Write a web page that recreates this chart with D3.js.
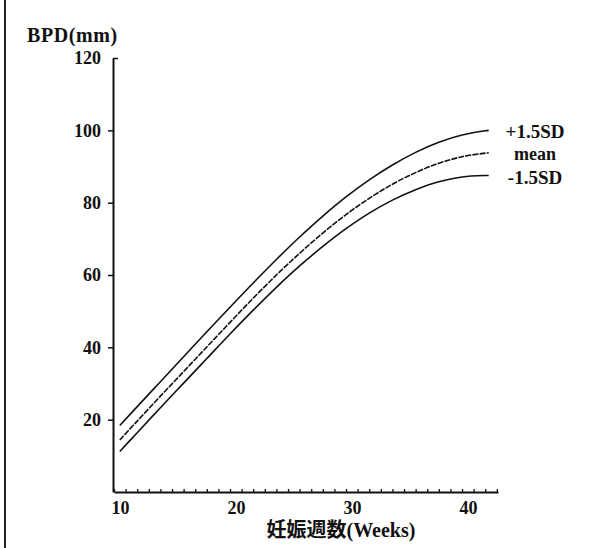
<!DOCTYPE html>
<html lang="ja">
<head>
<meta charset="utf-8" />
<title>BPD</title>
<script src="https://cdn.jsdelivr.net/npm/d3@7/dist/d3.min.js"></script>
<style>
  body { margin: 0; background: #fff; }
  svg { display: block; }
  .lbl { font-family: "Liberation Serif", "Noto Sans CJK JP", serif; font-weight: bold; fill: #111; }
  .axis path, .axis line { stroke: #111; }
  .axis text { font-family: "Liberation Serif", serif; font-weight: bold; font-size: 18px; fill: #111; }
</style>
</head>
<body>
<div id="chart"></div>
<script>
var width = 610, height = 548;

// gestational weeks and BPD (mm)
var weeks  = [10.5, 12, 14, 16, 18, 20, 22, 24, 26, 28, 30, 32, 34, 36, 38, 40, 42, 42.3];
var plusSD = [18.4, 23.6, 30.5, 37.4, 44.3, 51.1, 57.8, 64.3, 70.5, 76.3, 81.6, 86.3, 90.4, 93.9, 96.7, 98.7, 99.9, 100.0];
var mean   = [14.4, 19.6, 26.5, 33.3, 40.1, 46.9, 53.6, 60.0, 66.0, 71.6, 76.7, 81.2, 85.1, 88.3, 90.9, 92.7, 93.7, 93.8];
var minusSD= [11.2, 16.4, 23.3, 30.1, 36.9, 43.7, 50.3, 56.6, 62.5, 67.9, 72.8, 77.1, 80.7, 83.6, 85.8, 87.1, 87.5, 87.5];

var yTicks = [20, 40, 60, 80, 100, 120];
var xLabels = [10, 20, 30, 40];
var seriesNames = ["+1.5SD", "mean", "-1.5SD"];

var x = d3.scaleLinear().domain([10, 43.1]).range([114, 498]);
var y = d3.scaleLinear().domain([0, 120]).range([492, 58]);

var svg = d3.select("#chart").append("svg")
    .attr("width", width)
    .attr("height", height);

// left frame edge of the scanned page
svg.append("line")
    .attr("x1", 5).attr("x2", 5)
    .attr("y1", 0).attr("y2", height)
    .attr("stroke", "#222").attr("stroke-width", 2);

// x axis, small ticks pointing up
var xAxis = svg.append("g")
    .attr("class", "axis")
    .attr("transform", "translate(0," + y(0) + ")")
    .call(d3.axisBottom(x)
        .tickValues(d3.range(10, 44))
        .tickSizeInner(-3)
        .tickSizeOuter(0)
        .tickPadding(9)
        .tickFormat(function(d) { return xLabels.indexOf(d) >= 0 ? d : ""; }));
xAxis.select(".domain").attr("stroke-width", 2);
xAxis.selectAll(".tick line").attr("stroke-width", 1.3);
xAxis.selectAll(".tick text").attr("dx", 6);

// y axis
var yAxis = svg.append("g")
    .attr("class", "axis")
    .attr("transform", "translate(" + 113 + ",0)")
    .call(d3.axisLeft(y)
        .tickValues(yTicks)
        .tickSizeInner(5)
        .tickSizeOuter(0)
        .tickPadding(7));
yAxis.select(".domain").attr("stroke-width", 2);
yAxis.selectAll(".tick line").attr("stroke-width", 1.5);
yAxis.selectAll(".tick").filter(function(d) { return d === 120; })
    .select("line").attr("x2", 5);

// curves
var line = d3.line()
    .x(function(d) { return x(d[0]); })
    .y(function(d) { return y(d[1]); })
    .curve(d3.curveCatmullRom);

var all = [plusSD, mean, minusSD];
all.forEach(function(vals, i) {
  svg.append("path")
      .datum(d3.zip(weeks, vals))
      .attr("fill", "none")
      .attr("stroke", "#111")
      .attr("stroke-width", 1.6)
      .attr("stroke-dasharray", i === 1 ? "6,1.2" : null)
      .attr("d", line);
});

// series labels at the right end
var labelY = [131, 154, 177];
seriesNames.forEach(function(name, i) {
  svg.append("text")
      .attr("class", "lbl")
      .attr("x", 535)
      .attr("y", labelY[i])
      .attr("dy", "0.35em")
      .attr("text-anchor", "middle")
      .style("font-size", i === 1 ? "18px" : "19px")
      .text(name);
});

// axis titles
svg.append("text")
    .attr("class", "lbl")
    .attr("x", 27).attr("y", 42)
    .style("font-size", "20px")
    .style("letter-spacing", "0.6px")
    .text("BPD(mm)");

svg.append("text")
    .attr("class", "lbl")
    .attr("x", 341).attr("y", 537)
    .attr("text-anchor", "middle")
    .style("font-size", "20px")
    .text("妊娠週数(Weeks)");
</script>
</body>
</html>
